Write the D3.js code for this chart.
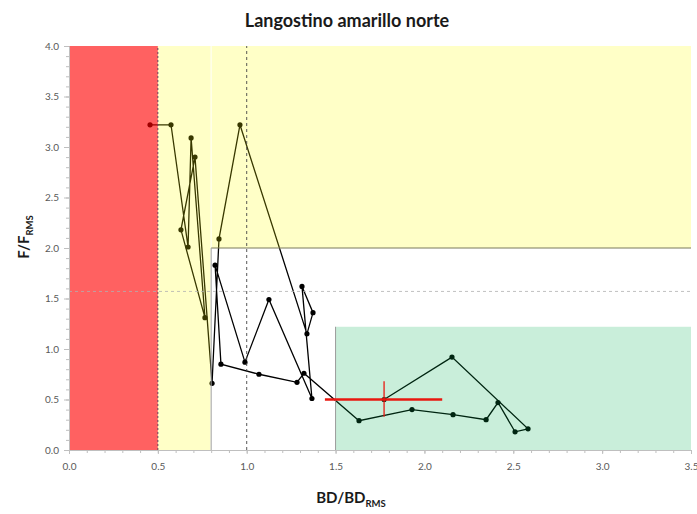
<!DOCTYPE html>
<html>
<head>
<meta charset="utf-8">
<script src="https://cdn.jsdelivr.net/npm/d3@7"></script>
<style>
  body { margin: 0; background: #fff; }
  text { font-family: Lato, "Open Sans", sans-serif; }
</style>
</head>
<body>
<div id="chart"></div>
<script>
/* DATA (in path order) */
const bdValues = [0.456, 0.574, 0.670, 0.687, 0.765, 0.630, 0.709, 0.805, 0.844, 0.962,
  1.339, 1.373, 1.311, 1.367, 1.125, 0.990, 0.822, 0.855, 1.069, 1.283,
  1.322, 1.632, 1.930, 2.161, 2.347, 2.414, 2.510, 2.583, 2.155, 1.773];
const fValues = [3.22, 3.22, 2.01, 3.09, 1.31, 2.18, 2.90, 0.66, 2.09, 3.22,
  1.15, 1.36, 1.62, 0.51, 1.49, 0.87, 1.83, 0.85, 0.75, 0.67,
  0.76, 0.29, 0.40, 0.35, 0.30, 0.47, 0.18, 0.21, 0.92, 0.50];
// interval around the last point
const ciBD = [1.44, 2.10];
const ciF = [0.33, 0.68];
// reference points
const bdLimit = 0.5, bdTarget = 1.0, bdBuffer = 0.8, bdGreen = 1.5;
const fOver = 2.0, fTarget = 1.57, fGreen = 1.22;
const xTicks = [0, 0.5, 1, 1.5, 2, 2.5, 3, 3.5];
const yTicks = [0, 0.5, 1, 1.5, 2, 2.5, 3, 3.5, 4];

const width = 697, height = 514;
const margin = { top: 46, right: 6, bottom: 64, left: 69 };

const svg = d3.select("#chart").append("svg")
  .attr("width", width).attr("height", height);

const x = d3.scaleLinear().domain([0, 3.5]).range([margin.left, width - margin.right]);
const y = d3.scaleLinear().domain([0, 4]).range([height - margin.bottom, margin.top]);

const points = bdValues.map((b, i) => ({ bd: b, f: fValues[i] }));

// trajectory first, the zones are laid over it (semi transparent)
const line = d3.line().x(d => x(d.bd)).y(d => y(d.f));
svg.append("path").datum(points)
  .attr("fill", "none").attr("stroke", "#000").attr("stroke-width", 1.3)
  .attr("d", line);
svg.selectAll("circle.pt").data(points).join("circle")
  .attr("class", "pt")
  .attr("cx", d => x(d.bd)).attr("cy", d => y(d.f))
  .attr("r", 2.6).attr("fill", "#000");

// zones
const zones = [
  { x0: 0, x1: bdLimit, y0: 0, y1: 4, c: "#ff0000", o: 0.62 },
  { x0: bdLimit, x1: bdBuffer - 0.004, y0: 0, y1: 4, c: "#ffff00", o: 0.22 },
  { x0: bdBuffer + 0.004, x1: 3.5, y0: fOver, y1: 4, c: "#ffff00", o: 0.22 },
  { x0: bdBuffer - 0.004, x1: bdBuffer + 0.004, y0: fOver, y1: 4, c: "#ffff00", o: 0.08 },
  { x0: bdGreen, x1: 3.5, y0: 0, y1: fGreen, c: "#00b050", o: 0.21 }
];
svg.selectAll("rect.zone").data(zones).join("rect")
  .attr("class", "zone")
  .attr("x", d => x(d.x0)).attr("width", d => x(d.x1) - x(d.x0))
  .attr("y", d => y(d.y1)).attr("height", d => y(d.y0) - y(d.y1))
  .attr("fill", d => d.c).attr("fill-opacity", d => d.o);

// zone edges and reference lines
svg.append("line")
  .attr("x1", x(bdBuffer)).attr("x2", x(3.5)).attr("y1", y(fOver)).attr("y2", y(fOver))
  .attr("stroke", "#7a7a5a").attr("stroke-width", 1);
svg.append("line")
  .attr("x1", x(bdBuffer)).attr("x2", x(bdBuffer)).attr("y1", y(0)).attr("y2", y(fOver))
  .attr("stroke", "#a0a0a0").attr("stroke-width", 1);
svg.append("line")
  .attr("x1", x(bdGreen)).attr("x2", x(bdGreen)).attr("y1", y(0)).attr("y2", y(fGreen))
  .attr("stroke", "#9a9a9a").attr("stroke-width", 1);
svg.append("line")
  .attr("x1", x(0)).attr("x2", x(3.5)).attr("y1", y(fTarget)).attr("y2", y(fTarget))
  .attr("stroke", "#b0b0b0").attr("stroke-width", 0.8).attr("stroke-dasharray", "3,3");
svg.append("line")
  .attr("x1", x(bdTarget)).attr("x2", x(bdTarget)).attr("y1", y(0)).attr("y2", y(4))
  .attr("stroke", "#444").attr("stroke-width", 0.9).attr("stroke-dasharray", "3,3");
svg.append("line")
  .attr("x1", x(bdLimit)).attr("x2", x(bdLimit)).attr("y1", y(0)).attr("y2", y(4))
  .attr("stroke", "#6a3a5a").attr("stroke-width", 1).attr("stroke-dasharray", "2,2");

// interval of last year
const last = points[points.length - 1];
svg.append("line")
  .attr("x1", x(ciBD[0])).attr("x2", x(ciBD[1])).attr("y1", y(last.f)).attr("y2", y(last.f))
  .attr("stroke", "#e8170f").attr("stroke-width", 2.6);
svg.append("line")
  .attr("x1", x(last.bd)).attr("x2", x(last.bd)).attr("y1", y(ciF[0])).attr("y2", y(ciF[1]))
  .attr("stroke", "#e8170f").attr("stroke-width", 1.6).attr("stroke-opacity", 0.8);

// AXES
const xAxis = svg.append("g")
  .attr("transform", `translate(0,${y(0)})`)
  .call(d3.axisBottom(x).tickValues(xTicks).tickFormat(d3.format(".1f")).tickSize(4).tickSizeOuter(0));
const xMinor = svg.append("g")
  .attr("transform", `translate(0,${y(0)})`)
  .call(d3.axisBottom(x).tickValues(d3.range(0, 3.51, 0.1)).tickFormat("").tickSize(3).tickSizeOuter(0));
const yAxis = svg.append("g")
  .attr("transform", `translate(${x(0)},0)`)
  .call(d3.axisLeft(y).tickValues(yTicks).tickFormat(d3.format(".1f")).tickSize(5).tickSizeOuter(0));
const yMinor = svg.append("g")
  .attr("transform", `translate(${x(0)},0)`)
  .call(d3.axisLeft(y).tickValues(d3.range(0, 4.01, 0.1)).tickFormat("").tickSize(3).tickSizeOuter(0));

[xAxis, xMinor, yAxis, yMinor].forEach(g => {
  g.select(".domain").attr("stroke", "#bfbfbf");
  g.selectAll(".tick line").attr("stroke", "#bfbfbf");
  g.selectAll(".tick text").attr("fill", "#595959").attr("font-size", 10)
    .attr("font-family", "Lato, sans-serif");
});
xAxis.selectAll(".tick text").attr("dy", "1.3em");
yAxis.selectAll(".tick text").attr("dx", "-0.2em");

// TITLE + LABELS
svg.append("text")
  .attr("x", 347).attr("y", 27).attr("text-anchor", "middle")
  .attr("font-size", 18).attr("font-weight", "bold").attr("fill", "#1a1a1a")
  .text("Langostino amarillo norte");

const xl = svg.append("text")
  .attr("x", 351).attr("y", 503).attr("text-anchor", "middle")
  .attr("font-size", 15).attr("font-weight", "bold").attr("fill", "#1a1a1a");
xl.append("tspan").text("BD/BD");
xl.append("tspan").attr("font-size", 9.5).attr("dy", 4).text("RMS");

const yl = svg.append("text")
  .attr("transform", "translate(29,237) rotate(-90)").attr("text-anchor", "middle")
  .attr("font-size", 15).attr("font-weight", "bold").attr("fill", "#1a1a1a");
yl.append("tspan").text("F/F");
yl.append("tspan").attr("font-size", 9.5).attr("dy", 4).text("RMS");
</script>
</body>
</html>
